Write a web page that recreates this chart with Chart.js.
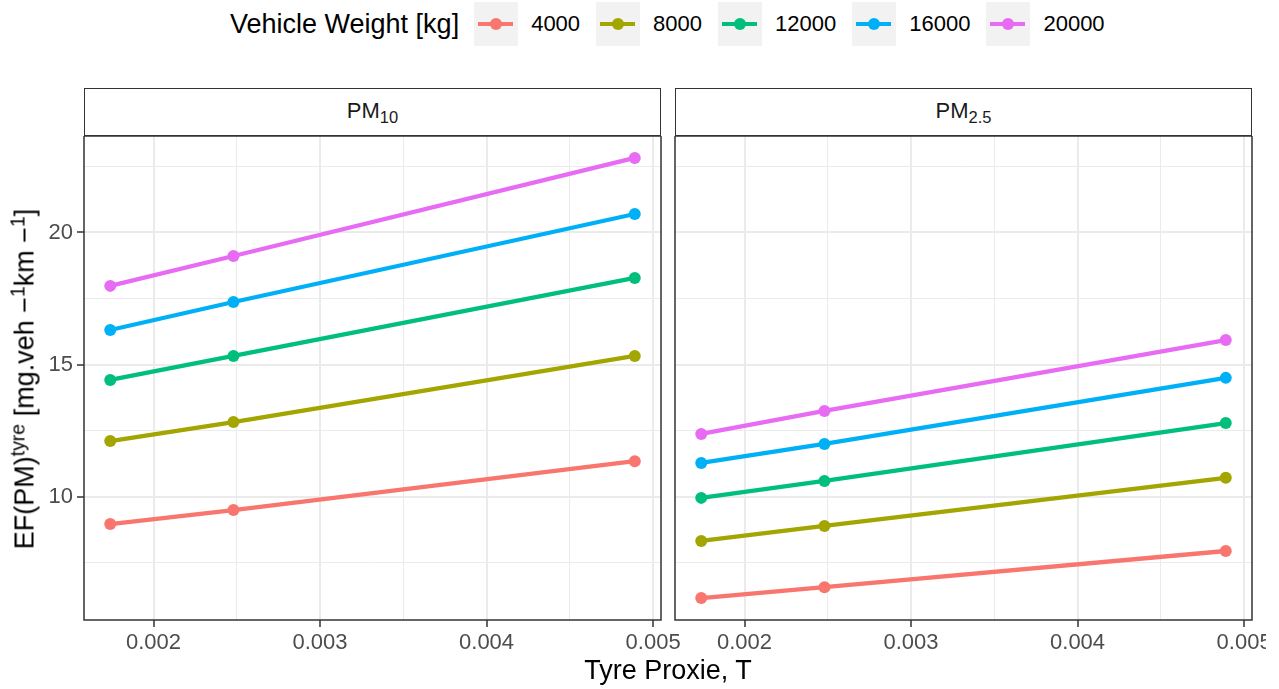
<!DOCTYPE html>
<html>
<head>
<meta charset="utf-8">
<script src="https://cdn.jsdelivr.net/npm/chart.js@4.4.1/dist/chart.umd.min.js"></script>
<style>
  body { margin: 0; background: #fff; font-family: "Liberation Sans", Arial, sans-serif; }
  #page { position: relative; width: 1279px; height: 689px; overflow: hidden; }
  canvas { position: absolute; }
  #legend { position: absolute; left: 230px; top: 2px; height: 44px; display: flex; align-items: center; }
  #legend .title { font-size: 27px; color: #000; margin-right: 15px; white-space: nowrap; }
  #legend .key { position: relative; width: 44px; height: 44px; background: #f2f2f2; margin-right: 13px; }
  #legend .key .ln { position: absolute; left: 4px; width: 35px; top: 20px; height: 4px; }
  #legend .key .pt { position: absolute; left: 16px; top: 16px; width: 12px; height: 12px; border-radius: 50%; }
  #legend .lab { font-size: 22px; color: #000; margin-right: 16px; }
  .strip { position: absolute; top: 88px; width: 575px; height: 46px; border: 1.5px solid #333; background: #fff;
           font-size: 22px; color: #1a1a1a; text-align: center; line-height: 44px; }
  .strip sub { font-size: 0.75em; vertical-align: baseline; position: relative; top: 0.3em; }
  #ytitle { position: absolute; left: 25px; top: 379px; transform: translate(-50%, -50%) rotate(-90deg);
            font-size: 27px; white-space: nowrap; color: #000; }
  #ytitle sup { font-size: 0.72em; vertical-align: baseline; position: relative; top: -0.45em; }
  #xtitle { position: absolute; left: 668px; top: 670px; transform: translate(-50%, -50%);
            font-size: 27px; white-space: nowrap; color: #000; }
</style>
</head>
<body>
<div id="page">
  <div id="legend"><span class="title">Vehicle Weight [kg]</span></div>
  <div class="strip" style="left:84px">PM<sub>10</sub></div>
  <div class="strip" style="left:675px">PM<sub>2.5</sub></div>
  <canvas id="pm10" width="700" height="520" style="left:0px;top:136px;width:700px;height:520px"></canvas>
  <canvas id="pm25" width="675" height="520" style="left:591px;top:136px;width:675px;height:520px"></canvas>
  <div id="ytitle">EF(PM)<sup>tyre</sup> [mg.veh −<sup>1</sup>km −<sup>1</sup>]</div>
  <div id="xtitle">Tyre Proxie, T</div>
</div>
<script>
// data
const tyreProxie = [0.00174, 0.00248, 0.00489];
const weights = ['4000', '8000', '12000', '16000', '20000'];

const pm10_4000  = [8.97, 9.50, 11.35];
const pm10_8000  = [12.11, 12.83, 15.33];
const pm10_12000 = [14.42, 15.33, 18.28];
const pm10_16000 = [16.31, 17.37, 20.70];
const pm10_20000 = [17.98, 19.11, 22.82];

const pm25_4000  = [6.17, 6.58, 7.95];
const pm25_8000  = [8.33, 8.90, 10.72];
const pm25_12000 = [9.96, 10.60, 12.79];
const pm25_16000 = [11.28, 12.00, 14.50];
const pm25_20000 = [12.38, 13.25, 15.93];

const xBreaks = [0.002, 0.0025, 0.003, 0.0035, 0.004, 0.0045, 0.005];
const yBreaks = [7.5, 10, 12.5, 15, 17.5, 20, 22.5];
const xLimits = [0.0015825, 0.0050475];
const yLimits = [5.34, 23.65];

const colours = ['#F8766D', '#A3A500', '#00BF7D', '#00B0F6', '#E76BF3'];

Chart.defaults.font.family = '"Liberation Sans", Arial, sans-serif';

function isMajorX(v) { return Math.abs(v * 1000 - Math.round(v * 1000)) < 1e-6; }
function isMajorY(v) { return Math.abs(v / 5 - Math.round(v / 5)) < 1e-6; }

const panelBorder = {
  id: 'panelBorder',
  afterDraw(chart) {
    const a = chart.chartArea, ctx = chart.ctx;
    ctx.save();
    ctx.strokeStyle = '#333333';
    ctx.lineWidth = 1.5;
    ctx.strokeRect(a.left, a.top, a.right - a.left, a.bottom - a.top);
    ctx.restore();
  }
};

// keep the plot area fixed: no extra room for overhanging tick labels
function noPad(s) {
  s.paddingTop = 0; s.paddingBottom = 0; s.paddingLeft = 0; s.paddingRight = 0;
}

function makePanel(id, series, showY, padRight) {
  const datasets = weights.map((w, i) => ({
    label: w,
    data: tyreProxie.map((x, j) => ({ x: x, y: series[i][j] })),
    borderColor: colours[i],
    backgroundColor: colours[i],
    borderWidth: 4.3,
    pointRadius: 6,
    pointHoverRadius: 6,
    pointBorderWidth: 0,
    tension: 0
  }));
  return new Chart(document.getElementById(id), {
    type: 'line',
    data: { datasets: datasets },
    options: {
      responsive: false,
      devicePixelRatio: 1,
      animation: false,
      layout: { autoPadding: false, padding: { left: 0, right: padRight, top: 0, bottom: 0 } },
      plugins: { legend: { display: false }, tooltip: { enabled: false } },
      scales: {
        x: {
          type: 'linear',
          min: xLimits[0], max: xLimits[1],
          afterBuildTicks: s => { s.ticks = xBreaks.map(v => ({ value: v })); },
          afterFit: s => { s.height = 36; noPad(s); },
          border: { display: false },
          grid: {
            color: '#ebebeb',
            lineWidth: c => (c.tick && isMajorX(c.tick.value)) ? 2 : 1,
            tickLength: 7,
            tickWidth: 1.5,
            tickColor: c => (c.tick && isMajorX(c.tick.value)) ? '#333333' : 'rgba(0,0,0,0)'
          },
          ticks: {
            autoSkip: false, maxRotation: 0, padding: 3,
            font: { size: 22 }, color: '#4d4d4d',
            callback: v => isMajorX(v) ? v.toFixed(3) : ''
          }
        },
        y: {
          type: 'linear',
          min: yLimits[0], max: yLimits[1],
          afterBuildTicks: s => { s.ticks = yBreaks.map(v => ({ value: v })); },
          afterFit: s => { s.width = 84; noPad(s); },
          border: { display: false },
          grid: {
            color: '#ebebeb',
            lineWidth: c => (c.tick && isMajorY(c.tick.value)) ? 2 : 1,
            tickLength: 7,
            tickWidth: 1.5,
            tickColor: c => (showY && c.tick && isMajorY(c.tick.value)) ? '#333333' : 'rgba(0,0,0,0)'
          },
          ticks: {
            display: showY, autoSkip: false, padding: 4,
            font: { size: 22 }, color: '#4d4d4d',
            callback: v => isMajorY(v) ? String(v) : ''
          }
        }
      }
    },
    plugins: [panelBorder]
  });
}

makePanel('pm10', [pm10_4000, pm10_8000, pm10_12000, pm10_16000, pm10_20000], true, 39);
makePanel('pm25', [pm25_4000, pm25_8000, pm25_12000, pm25_16000, pm25_20000], false, 14);

// legend keys
const legend = document.getElementById('legend');
weights.forEach((w, i) => {
  const key = document.createElement('div');
  key.className = 'key';
  key.innerHTML = '<div class="ln" style="background:' + colours[i] + '"></div>' +
                  '<div class="pt" style="background:' + colours[i] + '"></div>';
  const lab = document.createElement('span');
  lab.className = 'lab';
  lab.textContent = w;
  legend.appendChild(key);
  legend.appendChild(lab);
});
</script>
</body>
</html>
